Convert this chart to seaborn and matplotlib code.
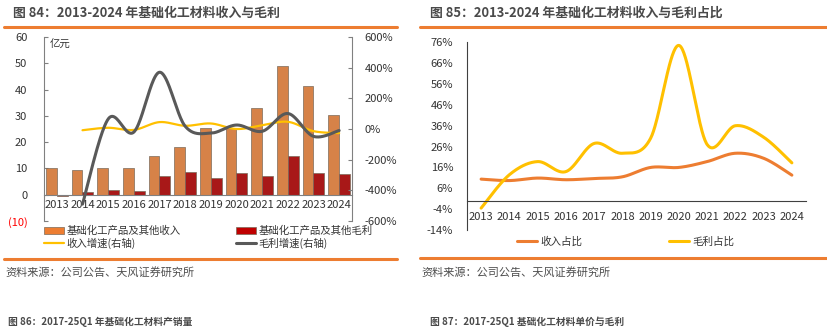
import numpy as np
import pandas as pd
import matplotlib
matplotlib.use("Agg")
import matplotlib.pyplot as plt
import seaborn as sns
from matplotlib.lines import Line2D
from matplotlib.patches import Patch
from matplotlib.ticker import FuncFormatter

sns.set_theme(style="white")
plt.rcParams['font.family'] = ['Noto Sans CJK SC', 'DejaVu Sans']
plt.rcParams['axes.unicode_minus'] = False

# ---- data ----
years = ['2013', '2014', '2015', '2016', '2017', '2018',
         '2019', '2020', '2021', '2022', '2023', '2024']
revenue = [10.0, 9.4, 10.3, 10.1, 14.7, 18.2, 25.4, 25.5, 33.1, 48.8, 41.3, 30.4]   # 亿元
gross_profit = [-0.4, 0.9, 1.7, 1.4, 7.3, 8.6, 6.4, 8.2, 7.2, 14.6, 8.3, 7.7]     # 亿元
growth_years = years[1:]
revenue_growth = [-8, 8, -6, 45, 21, 36, 0, 24, 47, -14, -27]           # %
profit_growth = [-490, 65, -20, 370, 18, -27, 26, -15, 101, -48, -10]    # %
revenue_share = [10.4, 9.7, 10.9, 10.1, 10.7, 11.5, 16.0, 16.0, 18.8, 22.8, 20.4, 12.3]  # %
profit_share = [-3.5, 12.5, 18.8, 14.0, 27.5, 22.8, 30.0, 74.5, 27.0, 36.0, 30.5, 18.2]   # %

ORANGE = '#ED7D31'
RED = '#C00000'
YELLOW = '#FFC000'
GRAY = '#595959'
TXT = '#333333'
W, H = 828, 333


def smooth(xs, ys, n=40):
    """Bezier smoothing through every point (spreadsheet-style smoothed line)."""
    P = np.column_stack([np.asarray(xs, float), np.asarray(ys, float)])
    out = []
    t = np.linspace(0, 1, n)[:, None]
    for i in range(len(P) - 1):
        p0 = P[i - 1] if i > 0 else P[i]
        p1, p2 = P[i], P[i + 1]
        p3 = P[i + 2] if i + 2 < len(P) else P[i + 1]
        b1 = p1 + (p2 - p0) / 6
        b2 = p2 - (p3 - p1) / 6
        seg = (1 - t) ** 3 * p1 + 3 * (1 - t) ** 2 * t * b1 + 3 * (1 - t) * t ** 2 * b2 + t ** 3 * p2
        out.append(seg if i == 0 else seg[1:])
    return np.vstack(out)


def fx(px):
    return px / W


def fy(py):
    return 1 - py / H


fig = plt.figure(figsize=(W / 100, H / 100), dpi=100)
fig.patch.set_facecolor('white')

# ---- headers, rules, sources ----
for x0, x1, ty, title in [(4, 397, 13, '图 84：2013-2024 年基础化工材料收入与毛利'),
                          (420, 828, 13, '图 85：2013-2024 年基础化工材料收入与毛利占比')]:
    fig.text(fx(x0 + 9 if x0 < 100 else x0 + 10), fy(ty), title, ha='left', va='center',
             fontsize=9.3, fontweight='bold', color='#4a4a4a')
    fig.add_artist(Line2D([fx(x0), fx(x1)], [fy(27), fy(27)], color=ORANGE, lw=2.2))
for x0, x1, ly in [(4, 397, 259), (420, 828, 258)]:
    fig.add_artist(Line2D([fx(x0), fx(x1)], [fy(ly), fy(ly)], color=ORANGE, lw=2.2))
    fig.text(fx(x0 + 1), fy(272), '资料来源：公司公告、天风证券研究所', ha='left', va='center',
             fontsize=8, color='#4d4d4d')
fig.text(fx(8), fy(322), '图 86：2017-25Q1 年基础化工材料产销量', ha='left', va='center',
         fontsize=7, fontweight='bold', color='#4a4a4a')
fig.text(fx(430), fy(322), '图 87：2017-25Q1 基础化工材料单价与毛利', ha='left', va='center',
         fontsize=7, fontweight='bold', color='#4a4a4a')

# ---- left chart: bars + growth lines ----
ax = fig.add_axes([fx(44), fy(221), fx(352 - 44), (221 - 37) / H])
bars = pd.DataFrame({
    'year': years * 2,
    'value': revenue + gross_profit,
    'series': ['基础化工产品及其他收入'] * 12 + ['基础化工产品及其他毛利'] * 12,
})
sns.barplot(data=bars, x='year', y='value', hue='series', palette=[ORANGE, RED],
            width=0.84, edgecolor='#7a6a5a', linewidth=0.5, legend=False, ax=ax, zorder=2)
ax.set_xlim(-0.5, 11.5)
ax.set_ylim(-10, 60)
ax.set_yticks(range(-10, 61, 10))
ax.yaxis.set_major_formatter(FuncFormatter(lambda v, p: '(%d)' % abs(v) if v < 0 else '%d' % v))
for lab in ax.get_yticklabels():
    pass
ax.set_xlabel('')
ax.set_ylabel('')
ax.spines['top'].set_visible(False)
ax.spines['right'].set_visible(False)
ax.spines['bottom'].set_position(('data', 0))
for s in ('left', 'bottom'):
    ax.spines[s].set_color('#808080')
    ax.spines[s].set_linewidth(0.8)
ax.tick_params(axis='y', direction='in', length=3, width=0.8, color='#808080',
               labelsize=8, labelcolor=TXT, pad=12)
ax.tick_params(axis='x', which='major', length=0, labelsize=8, labelcolor=TXT, pad=4)
ax.set_xticks(np.arange(-0.5, 12, 1), minor=True)
ax.tick_params(axis='x', which='minor', direction='out', length=3, width=0.8, color='#808080')
fig.canvas.draw()
for lab in ax.get_yticklabels():
    if lab.get_text().startswith('('):
        lab.set_color('#FF0000')
ax.text(0.02, 0.985, '亿元', transform=ax.transAxes, ha='left', va='top', fontsize=7.5, color=TXT)

ax2 = ax.twinx()
ax2.set_ylim(-600, 600)
ax2.set_yticks(range(-600, 601, 200))
ax2.yaxis.set_major_formatter(FuncFormatter(lambda v, p: '%d%%' % v))
gx = [years.index(y) for y in growth_years]
rg = smooth(gx, revenue_growth)
pg = smooth(gx, profit_growth)
sns.lineplot(x=rg[:, 0], y=rg[:, 1], sort=False, estimator=None, color=YELLOW, lw=1.6, ax=ax2)
sns.lineplot(x=pg[:, 0], y=pg[:, 1], sort=False, estimator=None, color=GRAY, lw=2.2, ax=ax2)
ax2.set_xlim(-0.5, 11.5)
for s in ('top', 'left', 'bottom'):
    ax2.spines[s].set_visible(False)
ax2.spines['right'].set_color('#808080')
ax2.spines['right'].set_linewidth(0.8)
ax2.tick_params(axis='y', direction='in', length=3, width=0.8, color='#808080',
                labelsize=8, labelcolor=TXT, pad=9)
ax2.grid(False)
ax.grid(False)

handles = [Patch(facecolor=ORANGE, edgecolor='#7a6a5a', linewidth=0.5),
           Line2D([], [], color=YELLOW, lw=1.6),
           Patch(facecolor=RED, edgecolor='#7a6a5a', linewidth=0.5),
           Line2D([], [], color=GRAY, lw=2.2)]
labels = ['基础化工产品及其他收入', '收入增速(右轴)', '基础化工产品及其他毛利', '毛利增速(右轴)']
fig.legend(handles, labels, loc='upper left', bbox_to_anchor=(fx(44), fy(226)), ncol=2,
           frameon=False, fontsize=7.5, handlelength=1.9, handleheight=0.7, handletextpad=0.25,
           columnspacing=5.3, labelspacing=0.12, borderpad=0, borderaxespad=0, labelcolor=TXT)

# ---- right chart: share lines ----
bx = fig.add_axes([fx(467), fy(230), fx(806 - 467), (230 - 42.3) / H])
xs = np.arange(len(years))
rs = smooth(xs, revenue_share)
ps = smooth(xs, profit_share)
sns.lineplot(x=rs[:, 0], y=rs[:, 1], sort=False, estimator=None, color=ORANGE, lw=2.2, ax=bx)
sns.lineplot(x=ps[:, 0], y=ps[:, 1], sort=False, estimator=None, color=YELLOW, lw=2.2, ax=bx)
bx.set_xlim(-0.5, 11.5)
bx.set_ylim(-14, 76)
bx.set_yticks(range(-14, 77, 10))
bx.yaxis.set_major_formatter(FuncFormatter(lambda v, p: '%d%%' % v))
bx.set_xticks(xs)
bx.set_xticklabels(years)
bx.set_xticks(np.arange(0.5, 12, 1), minor=True)
bx.spines['top'].set_visible(False)
bx.spines['right'].set_visible(False)
bx.spines['bottom'].set_position(('data', 0))
for s in ('left', 'bottom'):
    bx.spines[s].set_color('#404040')
    bx.spines[s].set_linewidth(0.8)
bx.tick_params(axis='y', direction='in', length=3, width=0.8, color='#404040',
               labelsize=8, labelcolor=TXT, pad=10)
bx.tick_params(axis='x', which='major', length=0, labelsize=8, labelcolor=TXT, pad=8)
bx.tick_params(axis='x', which='minor', direction='in', length=3, width=0.8, color='#404040')
bx.grid(False)

fig.legend([Line2D([], [], color=ORANGE, lw=2.2), Line2D([], [], color=YELLOW, lw=2.2)],
           ['收入占比', '毛利占比'], loc='upper left', bbox_to_anchor=(fx(517), fy(236)), ncol=2,
           frameon=False, fontsize=7.6, handlelength=1.9, handletextpad=0.3,
           columnspacing=8.2, borderpad=0, borderaxespad=0, labelcolor=TXT)

fig.savefig('out.png', dpi=100, facecolor='white')
